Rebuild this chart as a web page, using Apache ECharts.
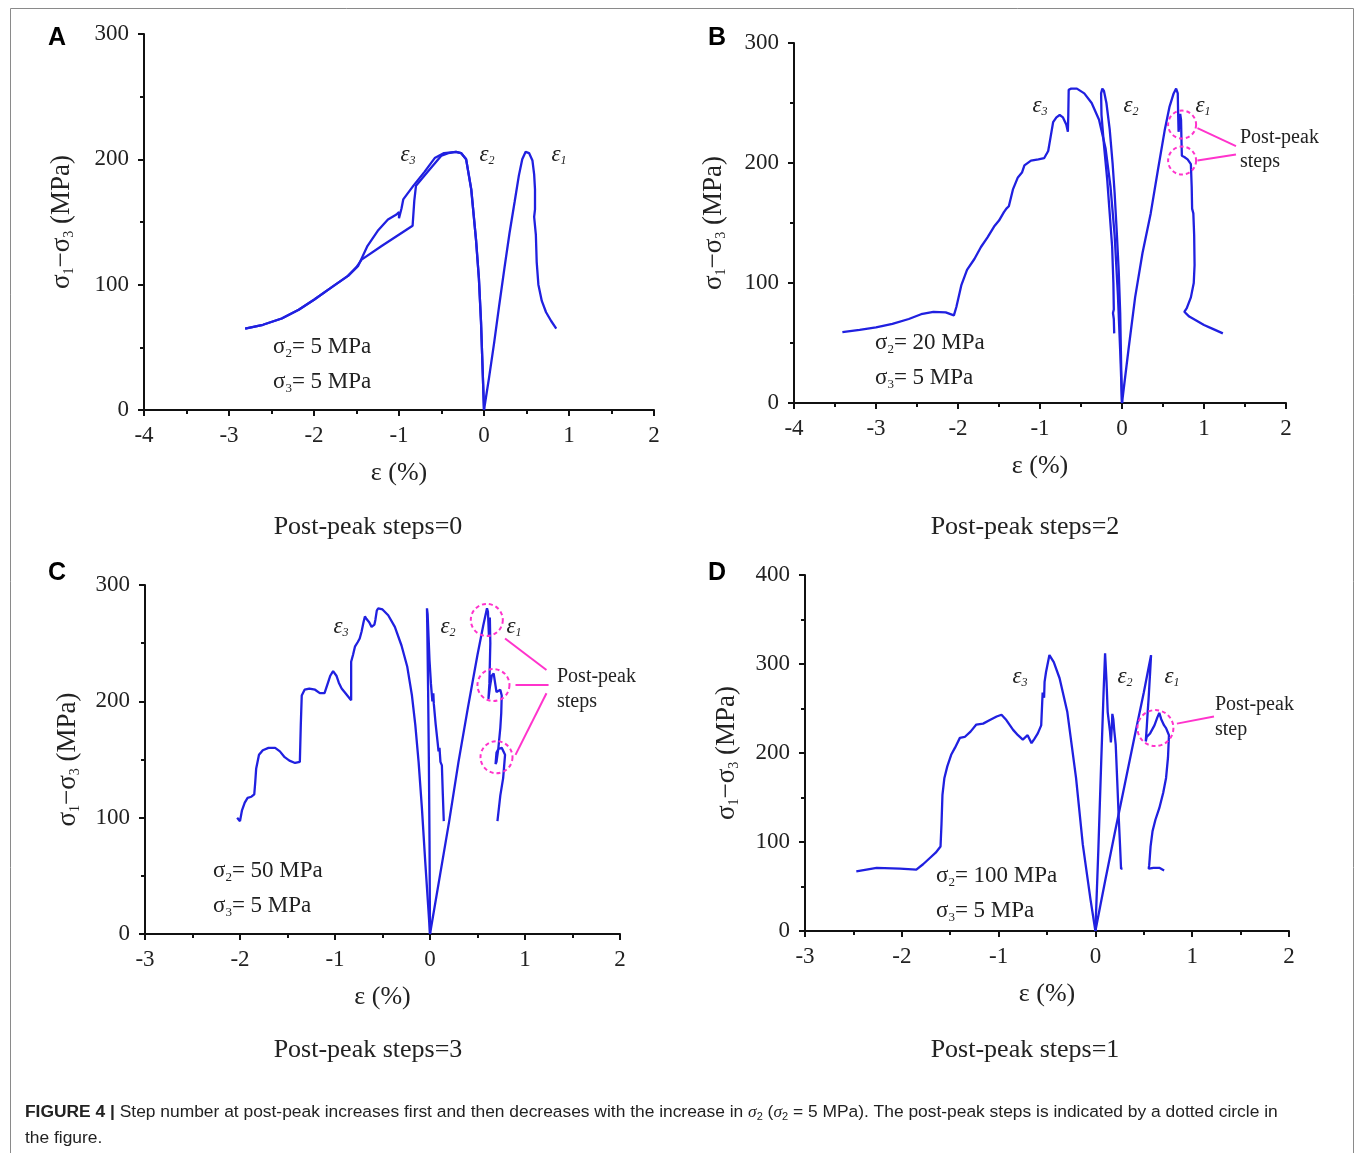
<!DOCTYPE html>
<html>
<head>
<meta charset="utf-8">
<script src="https://cdn.jsdelivr.net/npm/echarts@6/dist/echarts.min.js"></script>
<style>
  body { margin: 0; background: #fff; }
  #chart { width: 1355px; height: 1153px; }
</style>
</head>
<body>
<div id="chart"></div>
<script>
// ---- data: [strain %, deviatoric stress MPa] ----
// panel A, sigma2 = 5 MPa
const aEps1 = [[0,0],[0.06,26],[0.12,54],[0.18,84],[0.24,113],[0.3,141],[0.36,166],[0.41,187],[0.45,200],[0.49,206],[0.53,205],[0.57,199],[0.59,188],[0.6,176],[0.6,160],[0.59,154],[0.61,140],[0.62,118],[0.64,100],[0.68,87],[0.73,78],[0.79,71],[0.85,65]];
const aEps2 = [[0,0],[-0.035,70],[-0.06,105],[-0.094,136],[-0.15,176],[-0.21,200],[-0.27,205],[-0.33,206],[-0.42,205],[-0.5,203],[-0.65,191],[-0.8,179],[-0.82,167],[-0.84,147],[-0.93,143],[-1.2,131],[-1.44,120],[-1.5,114],[-1.6,107],[-1.79,98],[-2.0,88],[-2.18,80],[-2.38,73],[-2.6,68],[-2.81,65]];
const aEps3 = [[0,0],[-0.035,70],[-0.06,105],[-0.094,136],[-0.15,176],[-0.21,200],[-0.27,205],[-0.33,206],[-0.47,205],[-0.58,201],[-0.7,190],[-0.83,179],[-0.95,168],[-0.97,161],[-1.0,153],[-1.0,158],[-1.03,156],[-1.13,152],[-1.25,143],[-1.37,131],[-1.48,115],[-1.6,107],[-1.79,98],[-2.0,88],[-2.18,80],[-2.38,73],[-2.6,68],[-2.81,65]];

// panel B, sigma2 = 20 MPa
const bEps1 = [[0,0],[0.08,45],[0.16,88],[0.25,125],[0.35,158],[0.44,195],[0.52,227],[0.58,247],[0.63,258],[0.66,262],[0.68,258],[0.685,240],[0.69,226],[0.7,233],[0.71,241],[0.72,236],[0.725,220],[0.73,206],[0.76,205],[0.8,203],[0.84,199],[0.85,180],[0.855,162],[0.87,158],[0.88,140],[0.885,115],[0.875,100],[0.84,88],[0.79,79],[0.76,76],[0.77,75],[0.82,72],[0.9,69],[1.0,65],[1.1,62],[1.23,58]];
const bEps2 = [[0,0],[-0.01,30],[-0.022,75],[-0.04,110],[-0.065,144],[-0.09,175],[-0.115,200],[-0.15,228],[-0.19,250],[-0.22,260],[-0.24,262],[-0.255,258],[-0.25,240],[-0.22,215],[-0.18,186],[-0.15,158],[-0.12,130],[-0.105,100],[-0.1,78],[-0.11,75],[-0.1,70],[-0.095,58]];
const bEps3 = [[0,0],[-0.02,40],[-0.05,90],[-0.09,140],[-0.14,180],[-0.2,212],[-0.28,236],[-0.37,250],[-0.46,258],[-0.55,262],[-0.62,262],[-0.65,261],[-0.655,240],[-0.66,226],[-0.68,232],[-0.72,238],[-0.76,240],[-0.8,238],[-0.84,234],[-0.87,222],[-0.9,210],[-0.95,204],[-1.02,203],[-1.11,202],[-1.19,198],[-1.22,192],[-1.27,188],[-1.33,178],[-1.38,164],[-1.41,162],[-1.44,159],[-1.5,152],[-1.56,147],[-1.64,138],[-1.72,130],[-1.8,120],[-1.89,111],[-1.96,98],[-2.02,80],[-2.05,73],[-2.15,75.5],[-2.3,76],[-2.45,74],[-2.6,70],[-2.8,66],[-3.0,63],[-3.2,61],[-3.41,59]];

// panel C, sigma2 = 50 MPa
const cEps1 = [[0,0],[0.1,48],[0.2,96],[0.3,148],[0.4,195],[0.5,240],[0.56,265],[0.6,280],[0.61,277],[0.62,257],[0.625,270],[0.63,272],[0.635,250],[0.625,215],[0.615,202],[0.63,212],[0.65,222],[0.67,224],[0.7,208],[0.72,207],[0.74,210],[0.755,205],[0.75,190],[0.74,177],[0.72,160],[0.7,148],[0.69,146],[0.7,156],[0.72,159],[0.755,160],[0.79,154],[0.77,134],[0.74,119],[0.71,97]];
const cEps2 = [[0,0],[-0.005,80],[-0.012,150],[-0.02,210],[-0.028,260],[-0.032,280],[-0.025,275],[-0.015,255],[-0.005,235],[0.01,215],[0.02,205],[0.025,200],[0.035,207],[0.04,198],[0.06,180],[0.08,165],[0.09,157],[0.1,160],[0.11,148],[0.125,145],[0.135,120],[0.145,97]];
const cEps3 = [[0,0],[-0.02,25],[-0.05,62],[-0.085,108],[-0.12,148],[-0.155,180],[-0.19,205],[-0.24,230],[-0.3,248],[-0.37,264],[-0.44,274],[-0.5,279],[-0.545,280],[-0.56,278],[-0.575,270],[-0.585,266],[-0.615,264],[-0.64,268],[-0.67,271],[-0.685,273],[-0.7,268],[-0.72,260],[-0.74,254],[-0.76,251],[-0.79,247],[-0.81,240],[-0.83,234],[-0.83,215],[-0.83,201],[-0.86,204],[-0.9,208],[-0.93,211],[-0.96,216],[-0.985,222],[-1.02,226],[-1.05,222],[-1.07,217],[-1.11,207],[-1.16,207],[-1.21,210],[-1.27,211],[-1.32,210],[-1.35,205],[-1.36,180],[-1.37,148],[-1.42,147],[-1.48,149],[-1.53,152],[-1.58,157],[-1.63,160],[-1.7,160],[-1.76,158],[-1.8,154],[-1.83,142],[-1.84,130],[-1.85,120],[-1.88,118],[-1.92,117],[-1.95,113],[-1.98,106],[-2.0,97],[-2.03,100]];

// panel D, sigma2 = 100 MPa
const dEps1 = [[0,0],[0.05,28],[0.1,56],[0.2,110],[0.3,163],[0.4,216],[0.5,268],[0.55,296],[0.575,310],[0.565,290],[0.55,262],[0.54,246],[0.53,228],[0.52,213],[0.53,218],[0.565,222],[0.61,231],[0.64,240],[0.66,245],[0.68,238],[0.71,231],[0.73,228],[0.76,220],[0.75,195],[0.73,172],[0.7,155],[0.66,138],[0.62,125],[0.59,112],[0.57,95],[0.556,74],[0.55,70],[0.6,71],[0.66,71],[0.71,68]];
const dEps2 = [[0,0],[0.03,90],[0.06,190],[0.085,270],[0.1,312],[0.115,280],[0.127,246],[0.15,225],[0.16,212],[0.17,230],[0.175,244],[0.185,238],[0.195,225],[0.21,209],[0.225,170],[0.24,130],[0.255,95],[0.265,70],[0.28,70]];
const dEps3 = [[0,0],[-0.05,35],[-0.13,97],[-0.2,172],[-0.29,246],[-0.37,284],[-0.43,302],[-0.475,310],[-0.51,291],[-0.525,280],[-0.53,262],[-0.545,268],[-0.56,231],[-0.595,222],[-0.63,216],[-0.66,211],[-0.7,220],[-0.75,215],[-0.8,220],[-0.85,226],[-0.92,237],[-0.97,243],[-1.02,241],[-1.09,237],[-1.16,233],[-1.23,232],[-1.29,224],[-1.35,218],[-1.4,217],[-1.45,206],[-1.49,198],[-1.53,185],[-1.56,172],[-1.58,153],[-1.59,120],[-1.6,95],[-1.65,88],[-1.71,82],[-1.78,75],[-1.85,69],[-2.02,70],[-2.26,71],[-2.47,67]];

// axis ranges per panel
const xRanges = [[-4, 2], [-4, 2], [-3, 2], [-3, 2]];
const yRanges = [[0, 300], [0, 300], [0, 300], [0, 400]];
const sigma2Values = [5, 20, 50, 100];
const stepCounts = [0, 2, 3, 1];

// dashed circles and arrows marking the post-peak steps, in data units
const circlesB = [[0.733, 232], [0.733, 202]];
const circlesC = [[0.598, 270], [0.668, 214], [0.70, 152]];
const circlesD = [[0.62, 228]];
const arrowsB = [[[1.39, 214], [0.92, 229]], [[1.39, 207], [0.92, 202]]];
const arrowsC = [[[1.226, 227], [0.79, 254]], [[1.248, 214], [0.9, 214]], [[1.226, 207], [0.9, 154]]];
const arrowsD = [[[1.225, 241], [0.842, 233]]];

const BLUE = '#2020e0';
const MAG = '#ff33cc';
const SERIF = 'Liberation Serif';
const TXT = '#222';

const grids = [
  { left: 144, top: 34, width: 510, height: 376 },
  { left: 794, top: 43, width: 492, height: 360 },
  { left: 145, top: 585, width: 475, height: 349 },
  { left: 805, top: 575, width: 484, height: 356 }
];
const yNameGaps = [68, 66, 63, 64];

const axisLine = { onZero: false, lineStyle: { color: '#111', width: 2 } };

const xAxes = xRanges.map((r, i) => ({
  gridIndex: i, type: 'value', min: r[0], max: r[1], interval: 1,
  axisLine: axisLine,
  axisTick: { inside: false, length: 6, lineStyle: { color: '#111', width: 2 } },
  minorTick: { show: true, splitNumber: 2, length: 4, lineStyle: { color: '#111', width: 2 } },
  splitLine: { show: false },
  axisLabel: { fontFamily: SERIF, fontSize: 23, color: TXT, margin: 14 },
  name: 'ε (%)', nameLocation: 'middle', nameGap: 50,
  nameTextStyle: { fontFamily: SERIF, fontSize: 26, color: TXT }
}));

const yAxes = yRanges.map((r, i) => ({
  gridIndex: i, type: 'value', min: r[0], max: r[1], interval: 100,
  axisLine: axisLine,
  axisTick: { inside: false, length: 6, lineStyle: { color: '#111', width: 2 } },
  minorTick: { show: true, splitNumber: 2, length: 4, lineStyle: { color: '#111', width: 2 } },
  splitLine: { show: false },
  axisLabel: { fontFamily: SERIF, fontSize: 23, color: TXT, margin: 15 },
  name: '{a|σ}{s|1}{a|−σ}{s|3}{a| (MPa)}', nameLocation: 'middle', nameGap: yNameGaps[i],
  nameTextStyle: {
    rich: {
      a: { fontFamily: SERIF, fontSize: 27, color: TXT },
      s: { fontFamily: SERIF, fontSize: 14, color: TXT, padding: [14, 0, 0, 0] }
    }
  }
}));

function curve(idx, data, extra) {
  return Object.assign({
    type: 'line', xAxisIndex: idx, yAxisIndex: idx, data: data,
    showSymbol: false, symbol: 'none', silent: true, animation: false,
    lineStyle: { color: BLUE, width: 2.3 }
  }, extra || {});
}

function marks(circles, size, arrows) {
  return {
    markPoint: {
      silent: true, symbol: 'circle', symbolSize: size, label: { show: false },
      itemStyle: { color: 'rgba(0,0,0,0)', borderColor: MAG, borderWidth: 2, borderType: [4, 3] },
      data: circles.map(c => ({ coord: c }))
    },
    markLine: {
      silent: true, symbol: ['none', 'arrow'], symbolSize: [0, 11], label: { show: false },
      lineStyle: { color: MAG, width: 2, type: 'solid' },
      data: arrows.map(a => [{ coord: a[0] }, { coord: a[1] }])
    }
  };
}

const series = [
  curve(0, aEps1), curve(0, aEps2), curve(0, aEps3),
  curve(1, bEps1, marks(circlesB, 28, arrowsB)), curve(1, bEps2), curve(1, bEps3),
  curve(2, cEps1, marks(circlesC, 32, arrowsC)), curve(2, cEps2), curve(2, cEps3),
  curve(3, dEps1, marks(circlesD, 36, arrowsD)), curve(3, dEps2), curve(3, dEps3)
];

// ---- text annotations ----
const richTxt = {
  a: { fontFamily: SERIF, fontSize: 23, fill: TXT },
  s: { fontFamily: SERIF, fontSize: 13, fill: TXT, padding: [13, 0, 0, 0] },
  e: { fontFamily: SERIF, fontSize: 23, fontStyle: 'italic', fill: TXT },
  es: { fontFamily: SERIF, fontSize: 12, fontStyle: 'italic', fill: TXT, padding: [12, 0, 0, 0] }
};
function txt(x, y, text, align, extra) {
  return {
    type: 'text', x: x, y: y, silent: true,
    style: Object.assign({ text: text, rich: richTxt, align: align || 'left', verticalAlign: 'middle',
      fontFamily: SERIF, fontSize: 21, fill: TXT }, extra || {})
  };
}
const panelLetters = [['A', 57, 38], ['B', 717, 38], ['C', 57, 573], ['D', 717, 573]];
const stepTitles = [[368, 527], [1025, 527], [368, 1050], [1025, 1050]];
const stressPos = [[273, 347], [875, 343], [213, 871], [936, 876]];
const epsPos = [
  [[408, 155], [487, 155], [559, 155]],
  [[1040, 106], [1131, 106], [1203, 106]],
  [[341, 627], [448, 627], [514, 627]],
  [[1020, 677], [1125, 677], [1172, 677]]
];

const graphics = [
  { type: 'rect', silent: true, shape: { x: 10.5, y: 8.5, width: 1343, height: 1160 },
    style: { fill: 'none', stroke: '#8a8a8a', lineWidth: 1 } }
];
panelLetters.forEach(p => graphics.push({
  type: 'text', x: p[1], y: p[2], silent: true,
  style: { text: p[0], fontFamily: 'Liberation Sans', fontWeight: 'bold', fontSize: 25, fill: '#000',
    align: 'center', verticalAlign: 'middle' }
}));
stepTitles.forEach((p, i) => graphics.push(txt(p[0], p[1], 'Post-peak steps=' + stepCounts[i], 'center', { fontSize: 26 })));
stressPos.forEach((p, i) => {
  graphics.push(txt(p[0], p[1], '{a|σ}{s|2}{a|= ' + sigma2Values[i] + ' MPa}'));
  graphics.push(txt(p[0], p[1] + 35, '{a|σ}{s|3}{a|= 5 MPa}'));
});
epsPos.forEach(ps => {
  ['3', '2', '1'].forEach((k, j) => graphics.push(txt(ps[j][0], ps[j][1], '{e|ε}{es|' + k + '}', 'center')));
});
[[1240, 138, 'Post-peak'], [1240, 162, 'steps'], [557, 677, 'Post-peak'], [557, 702, 'steps'],
 [1215, 705, 'Post-peak'], [1215, 730, 'step']].forEach(p => graphics.push(txt(p[0], p[1], p[2], 'left', { fontSize: 20 })));

const capRich = {
  b: { fontFamily: 'Liberation Sans', fontWeight: 'bold', fontSize: 17.4, fill: '#222' },
  r: { fontFamily: 'Liberation Sans', fontSize: 17.4, fill: '#222' },
  i: { fontFamily: SERIF, fontStyle: 'italic', fontSize: 17.4, fill: '#222' },
  is: { fontFamily: 'Liberation Sans', fontSize: 11, fill: '#222', padding: [10, 0, 0, 0] }
};
graphics.push({
  type: 'text', x: 25, y: 1112, silent: true,
  style: { text: '{b|FIGURE 4 | }{r|Step number at post-peak increases first and then decreases with the increase in }{i|σ}{is|2}{r| (}{i|σ}{is|2}{r| = 5 MPa). The post-peak steps is indicated by a dotted circle in}',
    rich: capRich, verticalAlign: 'middle' }
});
graphics.push({
  type: 'text', x: 25, y: 1138, silent: true,
  style: { text: '{r|the figure.}', rich: capRich, verticalAlign: 'middle' }
});

const chart = echarts.init(document.getElementById('chart'));
chart.setOption({
  animation: false,
  backgroundColor: '#fff',
  grid: grids,
  xAxis: xAxes,
  yAxis: yAxes,
  series: series,
  graphic: graphics
});
</script>
</body>
</html>
